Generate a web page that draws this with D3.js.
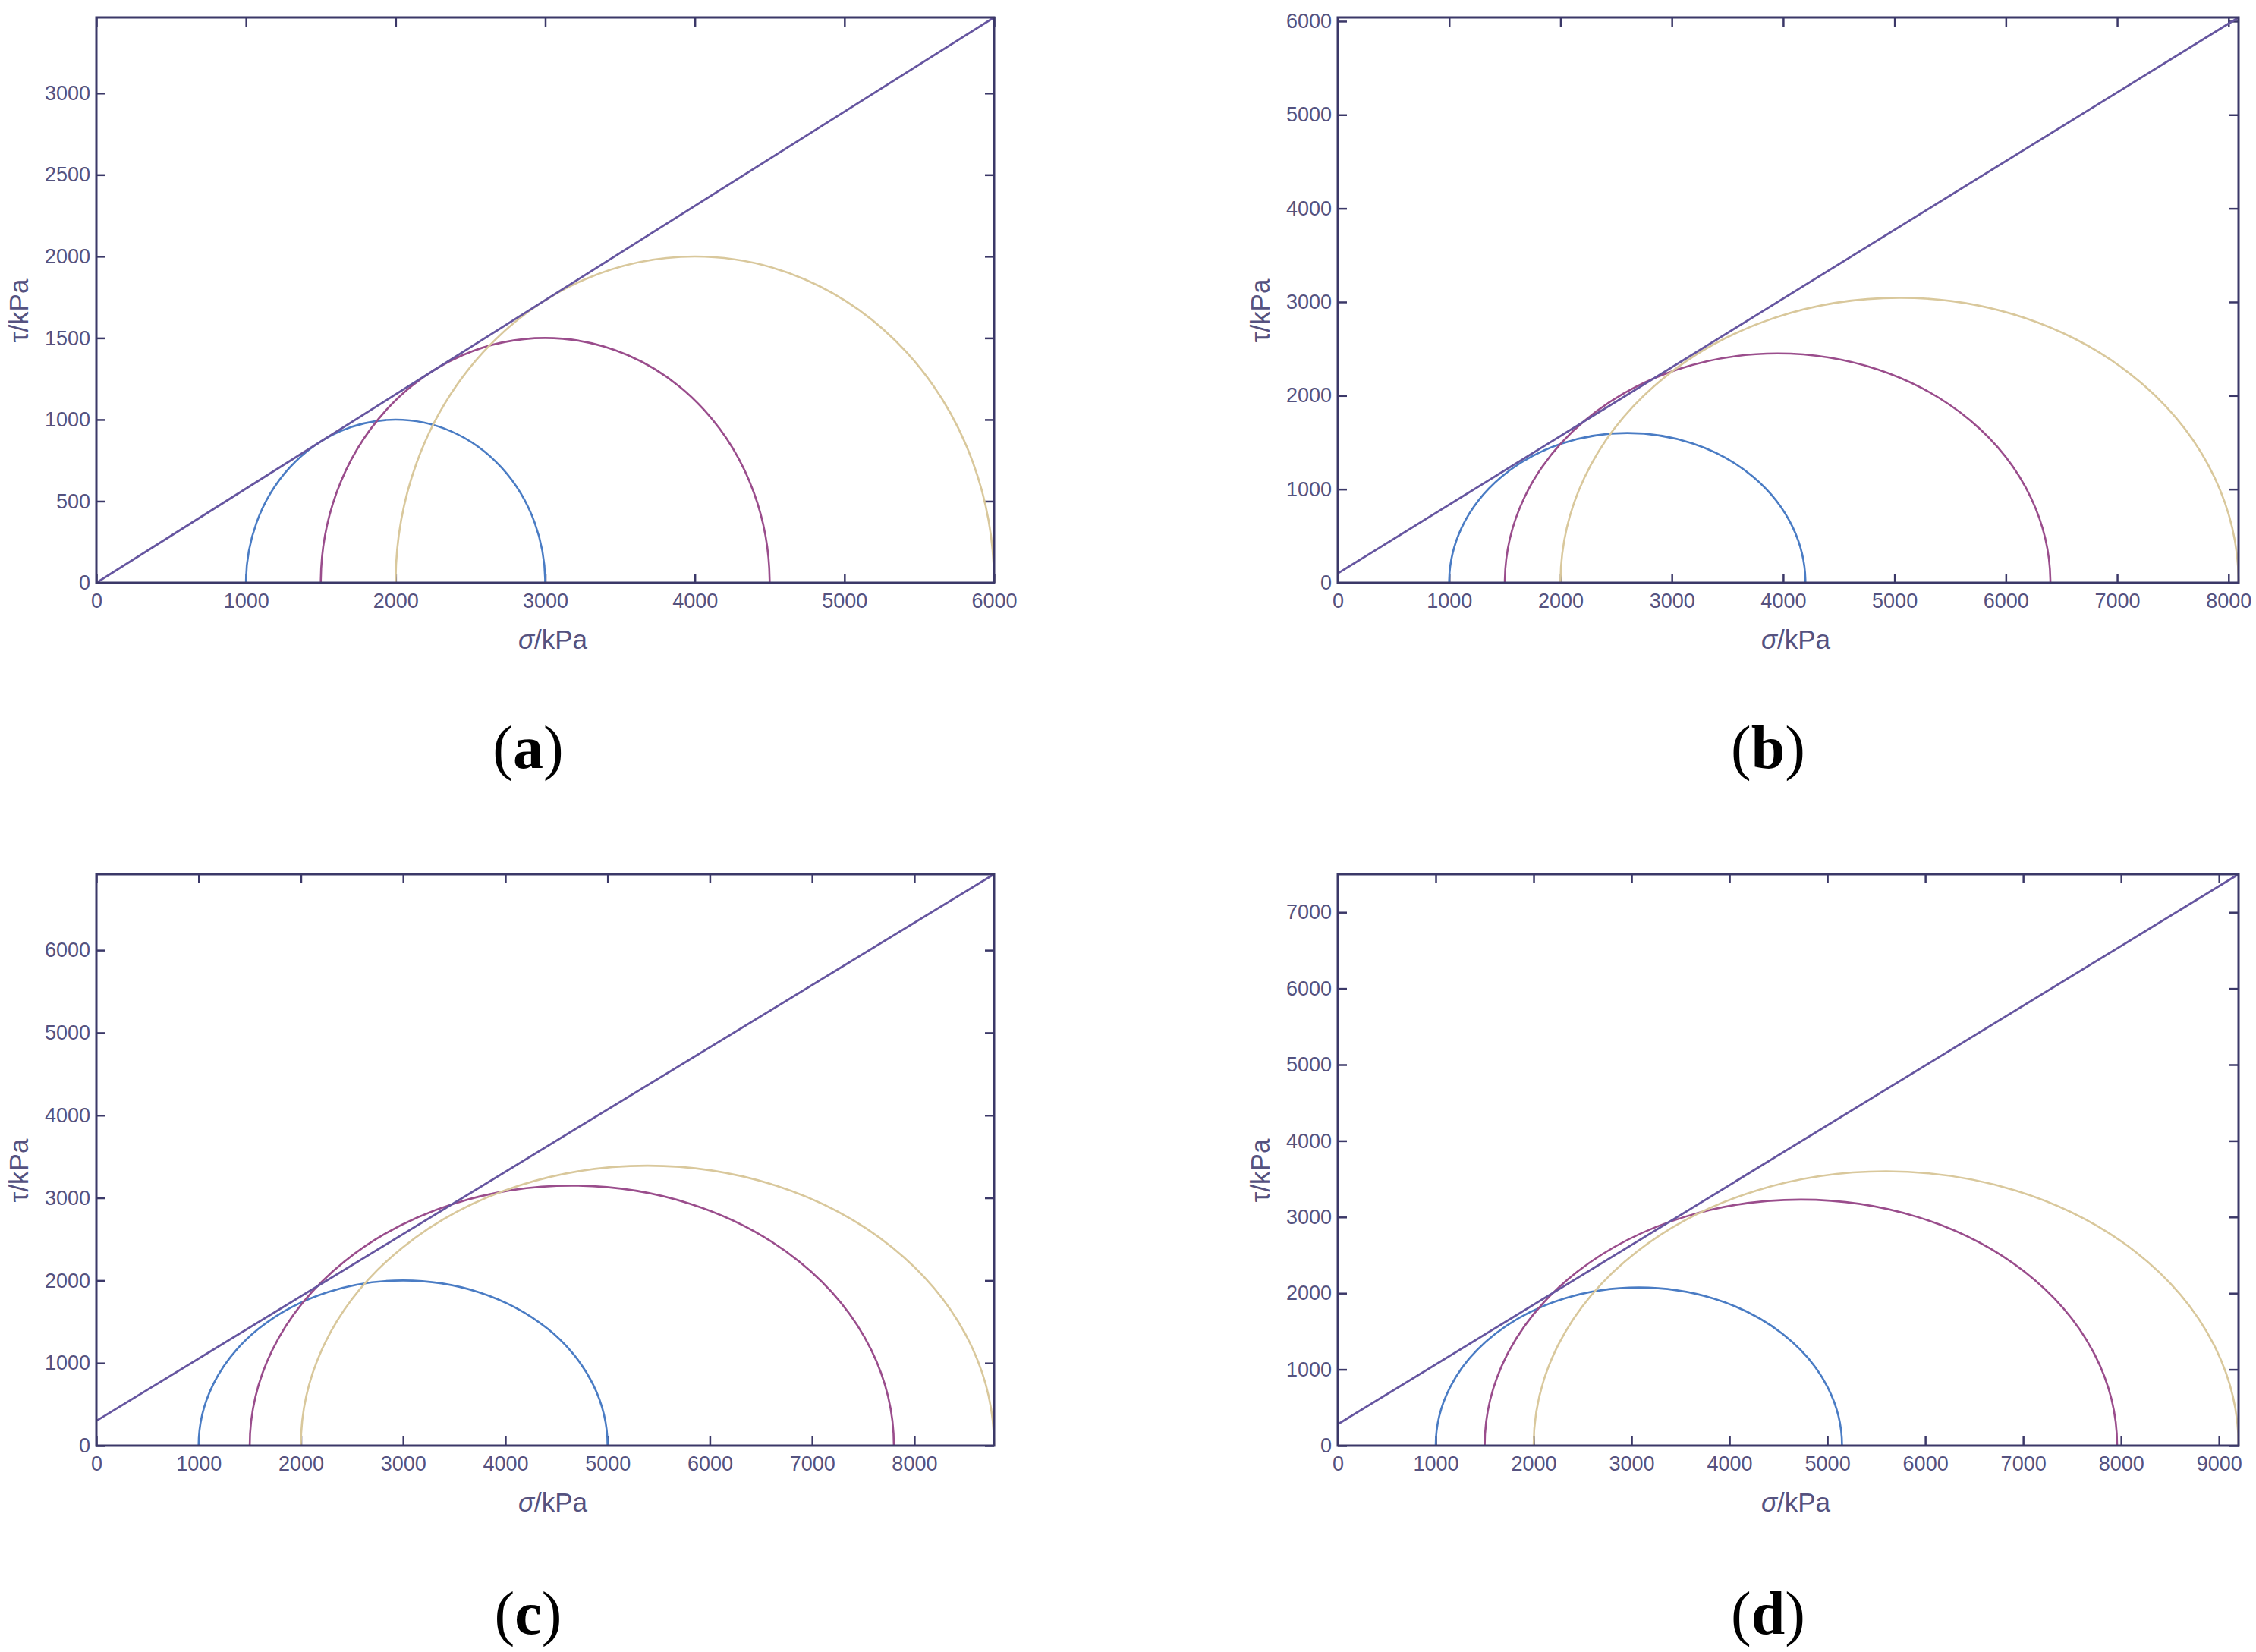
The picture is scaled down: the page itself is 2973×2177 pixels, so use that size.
<!DOCTYPE html>
<html>
<head>
<meta charset="utf-8">
<script src="https://cdn.jsdelivr.net/npm/d3@7"></script>
<style>
  body { margin: 0; background: #fff; }
  svg text { font-family: "Liberation Sans", Arial, sans-serif; }
</style>
</head>
<body>
<svg id="chart"></svg>
<script>
// values, all in kPa
const panelNames = ["a", "b", "c", "d"];
const sigmaMax = [6000, 8090, 8780, 9200];
const tauMax = [3464, 6040, 6920, 7500];
const sigmaTicks = [
  [0, 1000, 2000, 3000, 4000, 5000, 6000],
  [0, 1000, 2000, 3000, 4000, 5000, 6000, 7000, 8000],
  [0, 1000, 2000, 3000, 4000, 5000, 6000, 7000, 8000],
  [0, 1000, 2000, 3000, 4000, 5000, 6000, 7000, 8000, 9000]
];
const tauTicks = [
  [0, 500, 1000, 1500, 2000, 2500, 3000],
  [0, 1000, 2000, 3000, 4000, 5000, 6000],
  [0, 1000, 2000, 3000, 4000, 5000, 6000],
  [0, 1000, 2000, 3000, 4000, 5000, 6000, 7000]
];
// Mohr circles: minor / major principal stress
const sigma3 = [
  [1000, 1500, 2000],
  [1000, 1500, 2000],
  [1000, 1500, 2000],
  [1000, 1500, 2000]
];
const sigma1 = [
  [3000, 4500, 6000],
  [4200, 6400, 8090],
  [5000, 7800, 8780],
  [5150, 7960, 9200]
];
// strength envelope: tau at sigma = 0 and at the right edge
const envelopeStart = [0, 100, 300, 280];
const envelopeEnd = [3464, 6040, 6920, 7500];
const circleColors = ["#4a7cc4", "#9a4d8c", "#d9c89c"];

const axisColor = "#3b3868";
const labelColor = "#55527f";

d3.select("#chart")
  .attr("width", 2973)
  .attr("height", 2177)
  .style("background", "#fff");

class MohrPanel {

  constructor(_config, _i) {
    this.config = {
      parentElement: _config.parentElement,
      left: _config.left,
      top: _config.top,
      width: _config.width,
      height: _config.height,
      letterX: _config.letterX,
      letterY: _config.letterY
    }
    this.i = _i;
    this.initVis();
  }

  initVis() {
    let vis = this;
    let i = vis.i;

    vis.chart = d3.select(vis.config.parentElement).append('g')
      .attr('transform', `translate(${vis.config.left},${vis.config.top})`);

    vis.xScale = d3.scaleLinear()
      .domain([0, sigmaMax[i]])
      .range([0, vis.config.width]);

    vis.yScale = d3.scaleLinear()
      .domain([0, tauMax[i]])
      .range([vis.config.height, 0]);

    // ticks point inward on all four sides (matlab box)
    const styleAxis = g => {
      g.select(".domain").remove();
      g.selectAll(".tick line").attr("stroke", axisColor).attr("stroke-width", 2.5);
      g.selectAll("text").attr("fill", labelColor).style("font-size", "27px");
    };

    vis.chart.append('g')
      .attr("transform", `translate(0,${vis.config.height})`)
      .call(d3.axisBottom(vis.xScale).tickValues(sigmaTicks[i]).tickFormat(d3.format("d"))
        .tickSizeInner(-12).tickSizeOuter(0).tickPadding(14))
      .call(styleAxis);

    vis.chart.append('g')
      .call(d3.axisTop(vis.xScale).tickValues(sigmaTicks[i]).tickFormat("")
        .tickSizeInner(-12).tickSizeOuter(0))
      .call(styleAxis);

    vis.chart.append('g')
      .call(d3.axisLeft(vis.yScale).tickValues(tauTicks[i]).tickFormat(d3.format("d"))
        .tickSizeInner(-12).tickSizeOuter(0).tickPadding(8))
      .call(styleAxis);

    vis.chart.append('g')
      .attr("transform", `translate(${vis.config.width},0)`)
      .call(d3.axisRight(vis.yScale).tickValues(tauTicks[i]).tickFormat("")
        .tickSizeInner(-12).tickSizeOuter(0))
      .call(styleAxis);

    // Mohr semicircles (ellipses on screen since x and y scales differ)
    vis.chart.selectAll(".circle")
      .data(d3.range(sigma3[i].length))
      .join("path")
        .attr("class", "circle")
        .attr("fill", "none")
        .attr("stroke", k => circleColors[k])
        .attr("stroke-width", 2.6)
        .attr("d", k => {
          let s3 = sigma3[i][k], s1 = sigma1[i][k];
          let r = (s1 - s3) / 2;
          let rx = vis.xScale(s1) - vis.xScale(s3 + r);
          let ry = vis.yScale(0) - vis.yScale(r);
          return `M${vis.xScale(s3)},${vis.yScale(0)} A${rx},${ry} 0 0 1 ${vis.xScale(s1)},${vis.yScale(0)}`;
        });

    // strength envelope
    vis.chart.append("line")
      .attr("x1", vis.xScale(0))
      .attr("y1", vis.yScale(envelopeStart[i]))
      .attr("x2", vis.xScale(sigmaMax[i]))
      .attr("y2", vis.yScale(envelopeEnd[i]))
      .attr("stroke", "#6656a0")
      .attr("stroke-width", 2.8);

    // box
    vis.chart.append("rect")
      .attr("width", vis.config.width)
      .attr("height", vis.config.height)
      .attr("fill", "none")
      .attr("stroke", axisColor)
      .attr("stroke-width", 3);

    // axis titles
    let xt = vis.chart.append("text")
      .attr("x", vis.config.width / 2 + 10)
      .attr("y", vis.config.height + 87)
      .attr("text-anchor", "middle")
      .attr("fill", labelColor)
      .style("font-size", "35px");
    xt.append("tspan").style("font-style", "italic").text("σ");
    xt.append("tspan").text("/kPa");

    vis.chart.append("text")
      .attr("transform", `translate(-90,${vis.config.height / 2 + 14}) rotate(-90)`)
      .attr("text-anchor", "middle")
      .attr("fill", labelColor)
      .style("font-size", "35px")
      .text("τ/kPa");

    // panel letter
    let lt = d3.select(vis.config.parentElement).append("text")
      .attr("x", vis.config.letterX)
      .attr("y", vis.config.letterY)
      .attr("text-anchor", "middle")
      .attr("fill", "#000")
      .style("font-family", "'Liberation Serif', 'Times New Roman', serif")
      .style("font-size", "80px");
    lt.append("tspan").text("(");
    lt.append("tspan").attr("font-weight", "bold").text(panelNames[i]);
    lt.append("tspan").text(")");
  }
}

const layouts = [
  { left: 127, top: 23, width: 1183, height: 745, letterX: 696, letterY: 1012 },
  { left: 1763, top: 23, width: 1187, height: 745, letterX: 2330, letterY: 1012 },
  { left: 127, top: 1152, width: 1183, height: 753, letterX: 696, letterY: 2153 },
  { left: 1763, top: 1152, width: 1187, height: 753, letterX: 2330, letterY: 2153 }
];

layouts.forEach((l, i) => {
  new MohrPanel(Object.assign({ parentElement: "#chart" }, l), i);
});
</script>
</body>
</html>
